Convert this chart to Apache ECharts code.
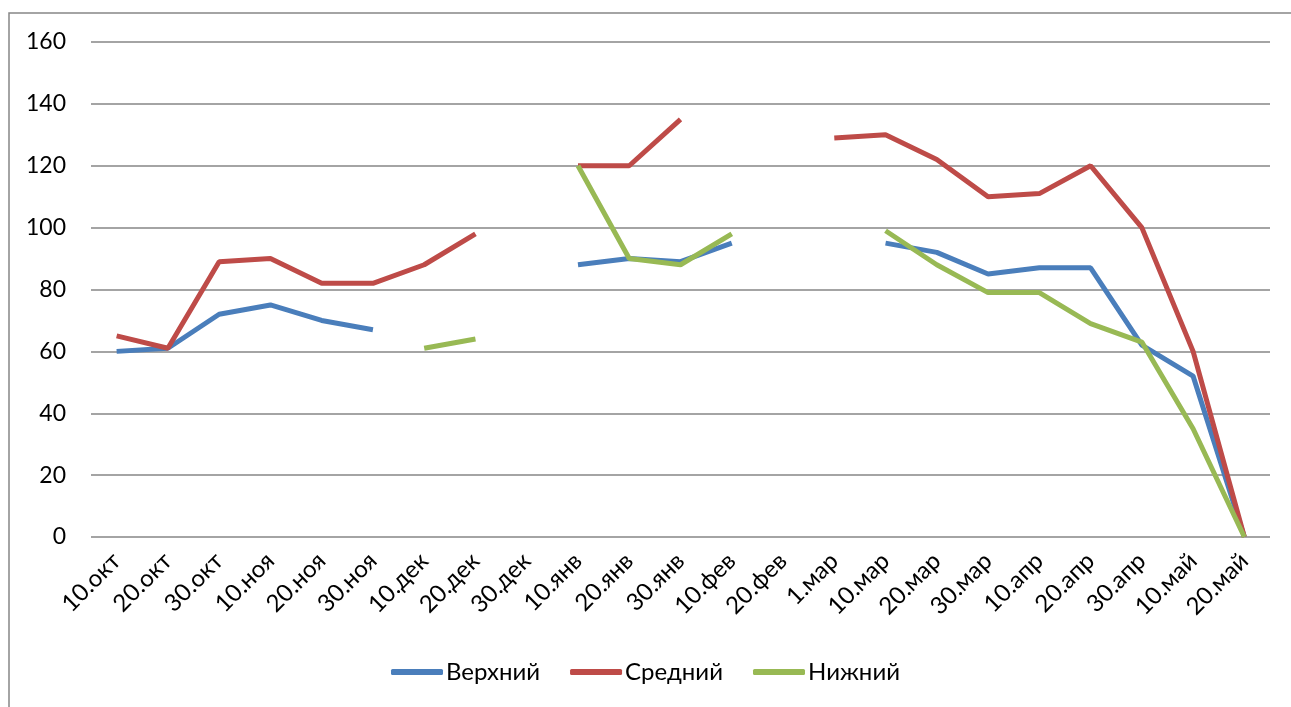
<!DOCTYPE html>
<html>
<head>
<meta charset="utf-8">
<script src="https://cdn.jsdelivr.net/npm/echarts@6/dist/echarts.min.js"></script>
<style>
  html, body { margin: 0; padding: 0; background: #fff; }
  #chart { width: 1291px; height: 707px; }
</style>
</head>
<body>
<div id="chart"></div>
<script>
// категории (декады)
var categories = ['10.окт', '20.окт', '30.окт', '10.ноя', '20.ноя', '30.ноя', '10.дек', '20.дек', '30.дек',
  '10.янв', '20.янв', '30.янв', '10.фев', '20.фев', '1.мар', '10.мар', '20.мар', '30.мар',
  '10.апр', '20.апр', '30.апр', '10.май', '20.май']

var upper = [60, 61, 72, 75, 70, 67, null, null, null,
  88, 90, 89, 95, null, null, 95, 92, 85,
  87, 87, 62, 52, 0]
var middle = [65, 61, 89, 90, 82, 82, 88, 98, null,
  120, 120, 135, null, null, 129, 130, 122, 110,
  111, 120, 100, 60, 0]
var lower = [null, null, null, null, null, null, 61, 64, null,
  120, 90, 88, 98, null, null, 99, 88, 79,
  79, 69, 63, 35, 0]

var chart = echarts.init(document.getElementById('chart'))
var font = 'Lato, "Open Sans", sans-serif'

function line(name, data, color) {
  return {
    name: name,
    type: 'line',
    data: data,
    showSymbol: false,
    connectNulls: false,
    lineStyle: { color: color, width: 5 },
    itemStyle: { color: color },
  }
}

chart.setOption({
  animation: false,
  backgroundColor: '#fff',
  textStyle: { fontFamily: font },
  graphic: [
    {
      type: 'rect',
      shape: { x: 9, y: 13, width: 1300, height: 720 },
      style: { fill: 'none', stroke: '#868686', lineWidth: 1.5 },
      silent: true,
    },
  ],
  grid: { left: 91, right: 21, top: 42, bottom: 170 },
  legend: {
    bottom: 18,
    left: 'center',
    itemWidth: 52,
    itemHeight: 6,
    itemGap: 30,
    icon: 'roundRect',
    textStyle: { fontSize: 24, color: '#000', fontFamily: font, padding: [0, 0, 0, -2] },
    data: ['Верхний', 'Средний', 'Нижний'],
  },
  xAxis: {
    type: 'category',
    data: categories,
    boundaryGap: true,
    axisLine: { show: false },
    axisTick: { show: false },
    axisLabel: {
      rotate: 45,
      interval: 0,
      fontSize: 24,
      color: '#000',
      margin: 20,
    },
  },
  yAxis: {
    type: 'value',
    min: 0,
    max: 160,
    interval: 20,
    axisLine: { show: false },
    axisTick: { show: false },
    axisLabel: { fontSize: 23, color: '#000', margin: 25 },
    splitLine: { lineStyle: { color: '#868686', width: 1.5 } },
  },
  series: [
    line('Верхний', upper, '#4a7ebb'),
    line('Средний', middle, '#be4b48'),
    line('Нижний', lower, '#98b954'),
  ],
})
</script>
</body>
</html>
